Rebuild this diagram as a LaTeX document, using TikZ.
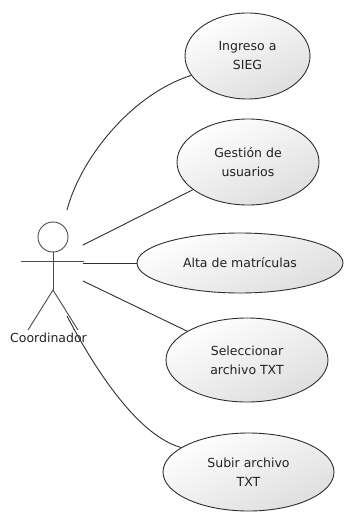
\documentclass[tikz,border=0pt]{standalone}
\usepackage{fontspec}
\setmainfont{DejaVu Sans}
\usetikzlibrary{shapes.geometric}
\definecolor{inkline}{HTML}{2E2E2E}
\definecolor{actorline}{HTML}{4A4A4A}
\definecolor{txt}{HTML}{222222}
\tikzset{
  usecase/.style={ellipse, draw=inkline, line width=0.9pt, inner sep=0pt,
    top color=white, bottom color=black!13, shading angle=25,
    text=txt, align=center,
    font=\fontsize{12.5}{19}\selectfont},
  assoc/.style={draw=inkline, line width=0.9pt},
  stick/.style={draw=actorline, line width=0.9pt},
}
\begin{document}
\begin{tikzpicture}[x=1pt,y=-1pt]
\useasboundingbox (0,0) rectangle (348,513);

% use cases
\node[usecase, minimum width=125pt, minimum height=86pt] (ing) at (247.5,56) {Ingreso a\\SIEG};
\node[usecase, minimum width=142pt, minimum height=86pt] (ges) at (248,162) {Gestión de\\usuarios};
\node[usecase, minimum width=206pt, minimum height=60pt] (alta) at (240,263) {Alta de matrículas};
\node[usecase, minimum width=162pt, minimum height=84pt] (sel) at (247,360) {Seleccionar\\archivo TXT};
\node[usecase, minimum width=171pt, minimum height=78pt] (sub) at (248.5,472) {Subir archivo\\TXT};

% actor
\node[circle, stick, minimum size=30pt, inner sep=0pt] (head) at (53,237) {};
\coordinate (hip) at (53,290);
\coordinate (armL) at (21,261);
\coordinate (armR) at (84,261);
\coordinate (footL) at (28,330);
\coordinate (footR) at (78,330);
\draw[stick] (head.south) -- (hip);
\draw[stick] (armL) -- (armR);
\draw[stick] (footL) -- (hip) -- (footR);
\node[text=txt, font=\fontsize{12.5}{15}\selectfont] (lbl) at (48.5,338) {Coordinador};

% association end points on the actor side
\coordinate (pIng) at (67,210);
\coordinate (pGes) at (83,245);
\coordinate (pAlta) at (83,263);
\coordinate (pSel) at (83,281);
\coordinate (pSub) at (67,316);

% associations
\draw[assoc] (pIng) .. controls (80,160) and (130,95) .. (ing.199);
\draw[assoc] (pGes) -- (ges);
\draw[assoc] (pAlta) -- (alta.west);
\draw[assoc] (pSel) -- (sel);
\draw[assoc] (pSub) .. controls (90,360) and (135,435) .. (sub.160);
\end{tikzpicture}
\end{document}
